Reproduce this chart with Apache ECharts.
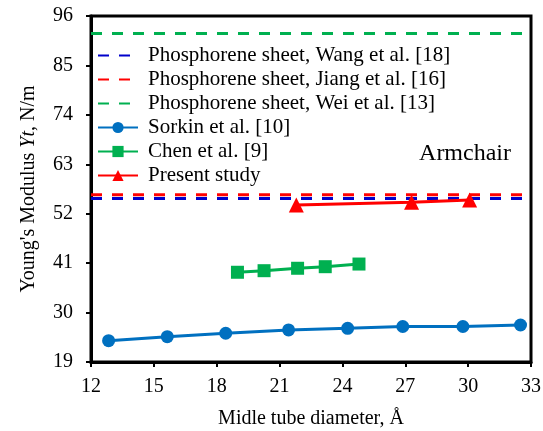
<!DOCTYPE html>
<html>
<head>
<meta charset="utf-8">
<script src="https://cdn.jsdelivr.net/npm/echarts@6/dist/echarts.min.js"></script>
<style>html,body{margin:0;padding:0;background:#fff}#c{width:543px;height:431px}</style>
</head>
<body>
<div id="c"></div>
<script>
const xTicks = [12, 15, 18, 21, 24, 27, 30, 33];
const yTicks = [19, 30, 41, 52, 63, 74, 85, 96];
const sheetRange = [12, 33];
const wangValue = 55.4;
const jiangValue = 56.2;
const weiValue = 92.1;
const sorkinX = [12.84, 15.64, 18.43, 21.43, 24.25, 26.88, 29.75, 32.5];
const sorkinY = [23.75, 24.64, 25.4, 26.13, 26.5, 26.9, 26.9, 27.24];
const chenX = [18.99, 20.26, 21.86, 23.18, 24.79];
const chenY = [38.97, 39.32, 39.86, 40.21, 40.8];
const presentX = [21.8, 27.3, 30.07];
const presentY = [53.94, 54.54, 55.06];
const names = ['Phosphorene sheet, Wang et al. [18]', 'Phosphorene sheet, Jiang et al. [16]', 'Phosphorene sheet, Wei et al. [13]', 'Sorkin et al. [10]', 'Chen et al. [9]', 'Present study'];

const pair = (xs, ys) => xs.map((x, i) => [x, ys[i]]);
const flat = v => sheetRange.map(x => [x, v]);
const font = 'Liberation Serif, Times New Roman, serif';

function dashed(name, v, color) {
  return {name, type: 'line', data: flat(v), symbol: 'none', silent: true,
    lineStyle: {color, width: 3, type: [11, 10]}, itemStyle: {color: 'rgba(0,0,0,0)', borderWidth: 0}, z: 2};
}
function solid(name, xs, ys, color, symbol, size) {
  return {name, type: 'line', data: pair(xs, ys), symbol, symbolSize: size, showSymbol: true,
    lineStyle: {color, width: 3}, itemStyle: {color}, z: 3};
}

const chart = echarts.init(document.getElementById('c'));
chart.setOption({
  animation: false,
  textStyle: {fontFamily: font},
  grid: {left: 91, right: 12, top: 16, bottom: 69, show: true, borderColor: '#000', borderWidth: 3, containLabel: false, outerBoundsMode: 'none'},
  title: {text: 'Armchair', right: 27, top: 137, textStyle: {fontFamily: font, fontSize: 24, fontWeight: 'normal', color: '#000'}},
  legend: {
    orient: 'vertical', left: 92, top: 40, itemWidth: 40, itemHeight: 14, itemGap: 3,
    textStyle: {fontFamily: font, fontSize: 21, color: '#000', lineHeight: 21, padding: [0, 0, 0, 5]},
    data: names
  },
  xAxis: {
    type: 'value', min: xTicks[0], max: xTicks[xTicks.length - 1], interval: 3,
    name: 'Midle tube diameter, Å', nameLocation: 'middle', nameGap: 47,
    nameTextStyle: {fontFamily: font, fontSize: 20, color: '#000'},
    axisLine: {lineStyle: {color: '#000', width: 3}},
    axisTick: {show: true, length: 5, lineStyle: {color: '#000', width: 2}},
    axisLabel: {fontFamily: font, fontSize: 20, color: '#000', margin: 15},
    splitLine: {show: false}
  },
  yAxis: {
    type: 'value', min: yTicks[0], max: yTicks[yTicks.length - 1], interval: 11,
    name: "{n|Young's Modulus }{i|Yt}{n|, N/m}", nameLocation: 'middle', nameGap: 52,
    nameTextStyle: {fontFamily: font, fontSize: 20, color: '#000',
      rich: {n: {fontFamily: font, fontSize: 20, color: '#000'}, i: {fontFamily: font, fontSize: 20, color: '#000', fontStyle: 'italic'}}},
    axisLine: {lineStyle: {color: '#000', width: 3}},
    axisTick: {show: true, length: 5, lineStyle: {color: '#000', width: 2}},
    axisLabel: {fontFamily: font, fontSize: 20, color: '#000', margin: 18},
    splitLine: {show: false}
  },
  series: [
    dashed(names[0], wangValue, '#0000CC'),
    dashed(names[1], jiangValue, '#FF0000'),
    dashed(names[2], weiValue, '#00B050'),
    solid(names[3], sorkinX, sorkinY, '#0070C0', 'circle', 13),
    solid(names[4], chenX, chenY, '#00B050', 'rect', 13),
    solid(names[5], presentX, presentY, '#FF0000', 'triangle', 15)
  ]
});
</script>
</body>
</html>
